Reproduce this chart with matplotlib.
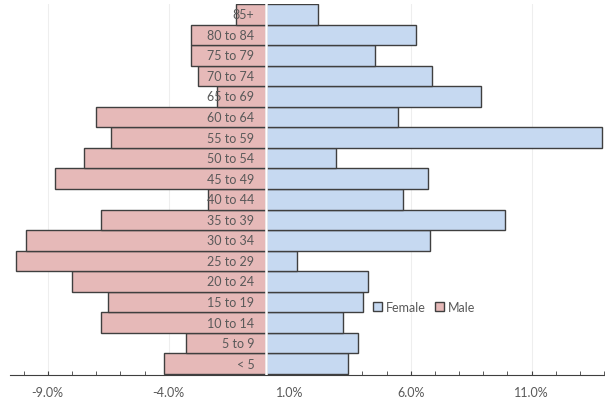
import matplotlib
matplotlib.use("Agg")
from matplotlib import pyplot as plt
from matplotlib import ticker

plt.rcParams["font.family"] = ["Lato", "DejaVu Sans"]

age_groups = ["< 5", "5 to 9", "10 to 14", "15 to 19", "20 to 24", "25 to 29",
              "30 to 34", "35 to 39", "40 to 44", "45 to 49", "50 to 54", "55 to 59",
              "60 to 64", "65 to 69", "70 to 74", "75 to 79", "80 to 84", "85+"]
male = [-4.19, -3.30, -6.80, -6.52, -8.01, -10.32, -9.90, -6.80, -2.39, -8.70,
        -7.49, -6.40, -7.00, -1.99, -2.80, -3.09, -3.09, -1.22]
female = [3.40, 3.81, 3.19, 4.02, 4.24, 1.30, 6.81, 9.91, 5.70, 6.70,
          2.90, 13.92, 5.49, 8.92, 6.89, 4.51, 6.22, 2.18]
major_ticks = [-9, -4, 1, 6, 11]

pink = "#E6B9B8"
blue = "#C6D9F1"
edge = "#3F3F3F"
text_col = "#595959"

fig = plt.figure(figsize=(6.05, 4.02), dpi=100)
ax = fig.add_axes([10 / 605, 26 / 402, 595 / 605, 371 / 402])

y = list(range(len(age_groups)))
ax.barh(y, female, height=1.0, color=blue, edgecolor=edge, linewidth=1.0,
        label="Female", zorder=2)
ax.barh(y, male, height=1.0, color=pink, edgecolor=edge, linewidth=1.0,
        label="Male", zorder=2)
ax.axvline(0, color="white", linewidth=1.8, zorder=3)

for yi, lab in zip(y, age_groups):
    ax.annotate(lab, (0, yi), xytext=(-8, 0), textcoords="offset points",
                ha="right", va="center", fontsize=9, color=text_col, zorder=4)

ax.set_xlim(-10.56, 14.03)
ax.set_ylim(-0.55, 17.5)
ax.set_xticks(major_ticks)
ax.xaxis.set_minor_locator(ticker.MultipleLocator(1))
ax.xaxis.set_major_formatter(ticker.FuncFormatter(lambda v, p: f"{v:.1f}%"))
ax.tick_params(axis="x", which="both", direction="in", length=3, color=edge,
               labelsize=9, labelcolor=text_col, pad=8)
ax.set_yticks([])
ax.grid(axis="x", which="major", color="#EEEEEE", linewidth=0.8, zorder=0)
ax.set_axisbelow(True)
for s in ["top", "left", "right"]:
    ax.spines[s].set_visible(False)
ax.spines["bottom"].set_color(edge)

ax.legend(loc="center", bbox_to_anchor=(0.696, 0.183), ncol=2, frameon=False,
          fontsize=9, handlelength=0.7, handleheight=0.7, handletextpad=0.3,
          columnspacing=0.8, labelcolor=text_col)

fig.savefig("out.png", dpi=100)
